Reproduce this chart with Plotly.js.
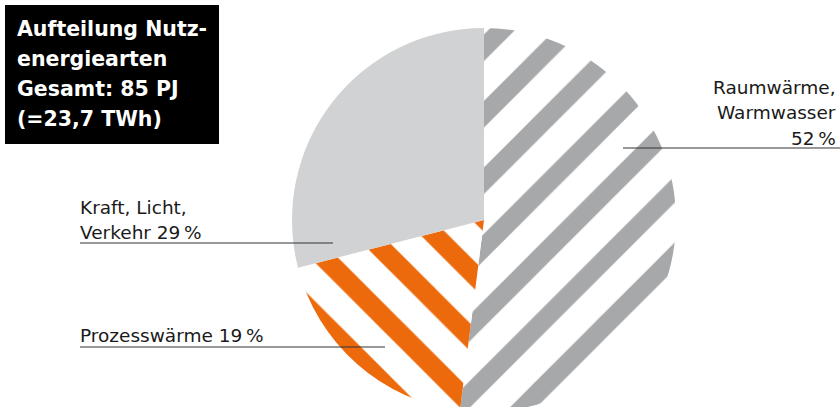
<!DOCTYPE html>
<html>
<head>
<meta charset="utf-8">
<script src="https://cdn.plot.ly/plotly-3.0.1.min.js"></script>
<style>
html,body{margin:0;padding:0;overflow:hidden;background:#fff;}
#chart{width:840px;height:412px;}
</style>
</head>
<body>
<div id="chart"></div>
<script>
// Data
const categories = ["Raumwärme, Warmwasser", "Prozesswärme", "Kraft, Licht, Verkehr"];
const values = [52, 19, 29];
const labelLines = [["Raumwärme,", "Warmwasser"], ["Prozesswärme"], ["Kraft, Licht,", "Verkehr"]];
const titleLines = ["Aufteilung Nutz-", "energiearten", "Gesamt: 85 PJ", "(=23,7 TWh)"];

// Styles
const W = 840, H = 412, T = 28;
const px = x => x / W;
const py = y => (H - y) / (H - T);
const font = "DejaVu Sans, Noto Sans, sans-serif";
const textColor = "#1a1a1a";

const trace = {
  type: "pie",
  labels: categories,
  values: values,
  sort: false,
  direction: "clockwise",
  rotation: 0,
  textinfo: "none",
  hoverinfo: "label+percent",
  marker: {
    colors: ["#a7a8aa", "#ec6a0c", "#d1d2d4"],
    line: {width: 0},
    pattern: {
      shape: ["/", "\\", ""],
      fgcolor: ["#a7a8aa", "#ec6a0c", "#d1d2d4"],
      bgcolor: ["#ffffff", "#ffffff", "#d1d2d4"],
      size: [47, 47, 47],
      solidity: [0.4, 0.42, 0.4],
      fillmode: "replace"
    }
  },
  domain: {x: [px(292), px(676)], y: [0, 1]},
  showlegend: false
};

const annotations = [];
const shapes = [];

// Title box
shapes.push({type: "rect", xref: "paper", yref: "paper",
  x0: px(5), x1: px(219), y0: py(144), y1: py(5),
  fillcolor: "#000", line: {width: 0}, layer: "above"});
titleLines.forEach((t, i) => {
  annotations.push({xref: "paper", yref: "paper", x: px(15), y: py(29 + i * 30),
    xanchor: "left", yanchor: "middle", showarrow: false, text: "<b>" + t + "</b>",
    font: {family: font, size: 20.5, color: "#fff"}});
});

// Label: Raumwärme (right aligned)
const rLines = labelLines[0].concat([values[0] + "\u2009%"]);
rLines.forEach((t, i) => {
  annotations.push({xref: "paper", yref: "paper", x: px(838), y: py(87 + i * 25.5),
    xanchor: "right", yanchor: "middle", showarrow: false, text: t,
    font: {family: font, size: 18.5, color: textColor}});
});
shapes.push({type: "line", xref: "paper", yref: "paper", x0: px(623), x1: px(840), y0: py(148), y1: py(148),
  line: {color: "#333", width: 1.2}, layer: "above"});

// Label: Kraft, Licht, Verkehr
const kLines = [labelLines[2][0], labelLines[2][1] + " " + values[2] + "\u2009%"];
kLines.forEach((t, i) => {
  annotations.push({xref: "paper", yref: "paper", x: px(78), y: py(207 + i * 25.5),
    xanchor: "left", yanchor: "middle", showarrow: false, text: t,
    font: {family: font, size: 18.5, color: textColor}});
});
shapes.push({type: "line", xref: "paper", yref: "paper", x0: px(80), x1: px(333), y0: py(243), y1: py(243),
  line: {color: "#333", width: 1.2}, layer: "above"});

// Label: Prozesswärme
annotations.push({xref: "paper", yref: "paper", x: px(78), y: py(335),
  xanchor: "left", yanchor: "middle", showarrow: false, text: labelLines[1][0] + " " + values[1] + "\u2009%",
  font: {family: font, size: 18.5, color: textColor}});
shapes.push({type: "line", xref: "paper", yref: "paper", x0: px(80), x1: px(385), y0: py(347), y1: py(347),
  line: {color: "#333", width: 1.2}, layer: "above"});

const layout = {
  width: W, height: H,
  margin: {l: 0, r: 0, t: T, b: 0, pad: 0},
  paper_bgcolor: "#fff",
  plot_bgcolor: "#fff",
  showlegend: false,
  annotations: annotations,
  shapes: shapes
};

Plotly.newPlot("chart", [trace], layout, {displayModeBar: false, staticPlot: true});
</script>
</body>
</html>
